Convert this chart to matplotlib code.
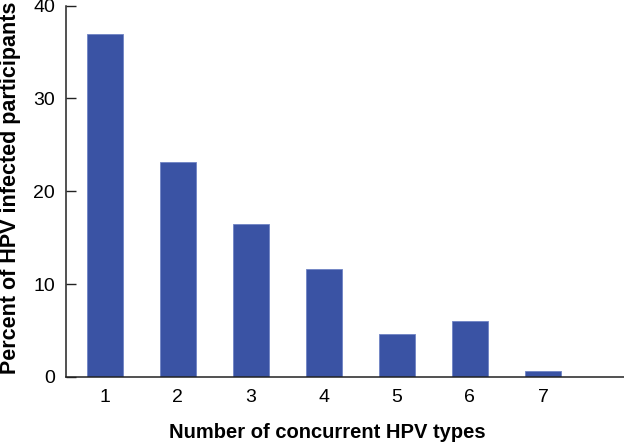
import matplotlib
matplotlib.use("Agg")
import matplotlib.pyplot as plt

categories = [1, 2, 3, 4, 5, 6, 7]
percents = [36.9, 23.2, 16.5, 11.6, 4.6, 6.0, 0.6]
yticks = [0, 10, 20, 30, 40]

plt.rcParams['font.family'] = ['Liberation Sans', 'DejaVu Sans']

fig = plt.figure(figsize=(6.24, 4.47), dpi=100)
ax = fig.add_axes([0.106, 0.1566, 0.894, 0.831])
ax.bar(categories, percents, width=0.49, color='#3A53A4', edgecolor='#6F83C4', linewidth=0.6)
ax.set_xlim(0.47, 8.11)
ax.set_ylim(0, 40)
ax.set_yticks(yticks)
ax.set_xticks(categories)
ax.set_xticklabels([str(c) for c in categories])
for s in ['top', 'right']:
    ax.spines[s].set_visible(False)
for s in ['left', 'bottom']:
    ax.spines[s].set_linewidth(1.1)
    ax.spines[s].set_color('#222222')
ax.tick_params(axis='y', direction='in', length=7.5, width=1.0, color='#222222', labelsize=14, pad=8)
ax.tick_params(axis='x', length=0, labelsize=14, pad=9)
ax.set_ylabel('Percent of HPV infected participants', fontsize=15.5, fontweight='bold')
ax.set_xlabel('Number of concurrent HPV types', fontsize=14.5, fontweight='bold')
ax.yaxis.set_label_coords(-0.081, 0.51)
ax.xaxis.set_label_coords(0.469, -0.125)
fig.savefig('out.png', dpi=100)
